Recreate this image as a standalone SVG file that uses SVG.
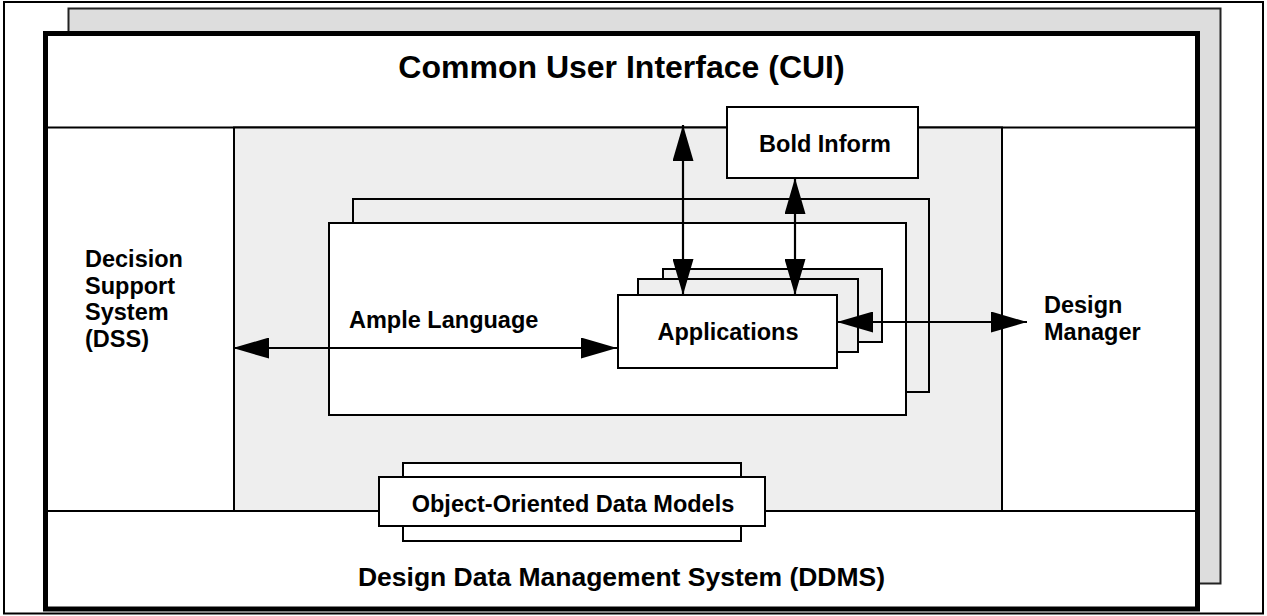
<svg xmlns="http://www.w3.org/2000/svg" width="1267" height="616" viewBox="0 0 1267 616">
<style>
  .t { font-family: "Liberation Sans", Arial, sans-serif; font-weight: bold; fill: #000; }
  .lbl { font-size: 23.5px; }
  .box { stroke: #000; stroke-width: 2; }
  .w { fill: #fff; }
  .g { fill: #eeeeee; }
  .ln { stroke: #000; stroke-width: 2; fill: none; }
  .conn { stroke: #000; stroke-width: 2.2; fill: none; marker-start: url(#ah); marker-end: url(#ah); }
</style>
<defs>
  <marker id="ah" markerUnits="userSpaceOnUse" markerWidth="36" markerHeight="21" viewBox="0 0 36 21" refX="36" refY="10.5" orient="auto-start-reverse">
    <path d="M0,0 L36,10.5 L0,21 Z" fill="#000"/>
  </marker>
</defs>
<rect x="0" y="0" width="1267" height="616" fill="#fff"/>
<g id="frame">
  <rect x="4" y="2" width="1259" height="611.5" fill="#fff" stroke="#000" stroke-width="2"/>
  <rect x="68.5" y="8.5" width="1152" height="575" fill="#dddddd" stroke="#222" stroke-width="2"/>
  <rect x="45.5" y="33.5" width="1152" height="575.5" fill="#fff" stroke="#000" stroke-width="5"/>
</g>
<g id="cui">
  <line class="ln" x1="48" y1="127.5" x2="1195" y2="127.5"/>
  <text class="t" x="621.5" y="78" font-size="32" text-anchor="middle">Common User Interface (CUI)</text>
</g>
<g id="ddms">
  <line class="ln" x1="48" y1="511" x2="1195" y2="511"/>
  <text class="t" x="621.5" y="586" font-size="26.5" text-anchor="middle">Design Data Management System (DDMS)</text>
</g>
<g id="core">
  <rect x="234" y="127.5" width="768" height="383.5" fill="#eeeeee" stroke="#000" stroke-width="2"/>
</g>
<g id="dss">
  <text class="t lbl" x="85" y="267">Decision</text>
  <text class="t lbl" x="85" y="294">Support</text>
  <text class="t lbl" x="85" y="320">System</text>
  <text class="t lbl" x="85" y="347">(DSS)</text>
</g>
<g id="design-manager">
  <text class="t lbl" x="1044" y="313">Design</text>
  <text class="t lbl" x="1044" y="340">Manager</text>
</g>
<g id="bold-inform">
  <rect class="box w" x="727" y="107" width="191" height="71"/>
  <text class="t lbl" x="825" y="152" text-anchor="middle">Bold Inform</text>
</g>
<g id="ample-language">
  <rect class="box g" x="353" y="199" width="576" height="193"/>
  <rect class="box w" x="329" y="223" width="577" height="192" stroke-width="2.4"/>
  <text class="t lbl" x="349" y="328">Ample Language</text>
</g>
<g id="applications">
  <rect class="box g" x="663" y="269" width="219" height="73"/>
  <rect class="box g" x="638" y="279" width="220" height="73"/>
  <rect class="box w" x="618" y="295" width="219" height="73"/>
  <text class="t lbl" x="728" y="340" text-anchor="middle">Applications</text>
</g>
<g id="object-oriented-data-models">
  <rect class="box w" x="403" y="463" width="338" height="78"/>
  <rect class="box w" x="379" y="477" width="386" height="49"/>
  <text class="t lbl" x="573" y="512" text-anchor="middle">Object-Oriented Data Models</text>
</g>
<g id="connectors">
  <line class="conn" x1="233" y1="348" x2="617" y2="348"/>
  <line class="conn" x1="683" y1="125" x2="683" y2="295"/>
  <line class="conn" x1="795" y1="178" x2="795" y2="295"/>
  <line class="conn" x1="837" y1="322" x2="1027" y2="322"/>
</g>
</svg>
